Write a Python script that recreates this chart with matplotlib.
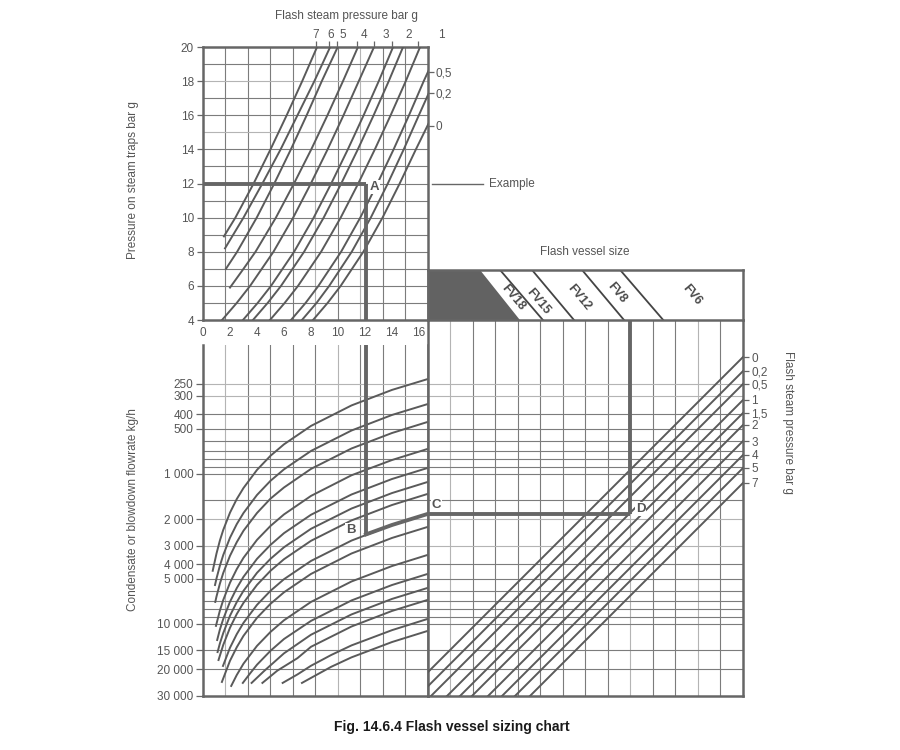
import numpy as np
import matplotlib.pyplot as plt
from matplotlib.ticker import FixedLocator, NullLocator

plt.rcParams['font.family'] = ['Liberation Sans', 'DejaVu Sans']
plt.rcParams['font.size'] = 8.5
plt.rcParams['text.color'] = '#555555'
plt.rcParams['xtick.color'] = '#666666'
plt.rcParams['ytick.color'] = '#666666'
plt.rcParams['xtick.labelcolor'] = '#555555'
plt.rcParams['ytick.labelcolor'] = '#555555'

# ---------------- data ----------------
pct_max = 16.63
pct_ticks = [0, 2, 4, 6, 8, 10, 12, 14, 16]
pct_extra = [18, 20]
pct_extra_labels = ['18', '20%']
trap_ticks = [4, 6, 8, 10, 12, 14, 16, 18, 20]

# flash steam curves (trap pressure bar g -> flash %)
flash_bar = [
    [8.9, 10, 12, 14, 16, 18, 20],
    [8.2, 10, 12, 14, 16, 18, 20],
    [7.0, 8, 10, 12, 14, 16, 18, 20],
    [5.9, 7, 8, 10, 12, 14, 16, 18, 20],
    [4, 5, 6, 8, 10, 12, 14, 16, 18, 20],
    [4, 5, 6, 8, 10, 12, 14, 16, 18, 20],
    [4, 5, 6, 8, 10, 12, 14, 16, 18, 20],
    [4, 5, 6, 8, 10, 12, 14, 16, 18, 20],
    [4, 5, 6, 8, 10, 12, 14, 16, 18, 18.6],
    [4, 5, 6, 8, 10, 12, 14, 16, 17.25],
    [4, 5, 6, 8, 10, 12, 14, 15.5],
]
flash_pct = [
    [1.55, 2.4, 3.75, 5.0, 6.2, 7.35, 8.45],
    [1.63, 3.0, 4.4, 5.75, 7.0, 8.25, 9.42],
    [1.7, 2.53, 3.98, 5.28, 6.51, 7.68, 8.8, 9.98],
    [2.0, 3.0, 3.89, 5.4, 6.74, 8.02, 9.22, 10.37, 11.48],
    [1.41, 2.5, 3.49, 5.22, 6.68, 7.99, 9.23, 10.41, 11.54, 12.67],
    [2.96, 4.05, 5.04, 6.75, 8.2, 9.5, 10.73, 11.9, 13.02, 14.08],
    [3.7, 4.79, 5.78, 7.49, 8.94, 10.24, 11.47, 12.64, 13.76, 14.82],
    [4.96, 6.05, 7.04, 8.75, 10.2, 11.5, 12.73, 13.9, 15.02, 16.08],
    [6.52, 7.6, 8.55, 10.23, 11.65, 12.92, 14.12, 15.26, 16.35, 16.7],
    [7.33, 8.41, 9.35, 11.02, 12.43, 13.69, 14.87, 15.99, 16.7],
    [8.15, 9.23, 10.2, 11.88, 13.3, 14.57, 15.77, 16.7],
]
flash_top_labels = ['7', '6', '5', '4', '3', '2', '1']
flash_top_label_pct = [8.37, 9.48, 10.37, 11.93, 13.56, 15.26, 17.63]
flash_top_tick_pct = [8.37, 9.33, 9.93, 11.41, 12.67, 14.0, 15.93]
flash_side_labels = ['0,5', '0,2', '0']
flash_side_bar = [18.53, 17.3, 15.37]

# condensate flowrate curves (flash % -> kg/h)
flow_ticks = [250, 300, 400, 500, 1000, 2000, 3000, 4000, 5000,
              10000, 15000, 20000, 30000]
flow_tick_labels = ['250', '300', '400', '500', '1 000', '2 000', '3 000',
                    '4 000', '5 000', '10 000', '15 000', '20 000', '30 000']
flow_grid = [250, 300, 400, 500, 600, 700, 800, 900, 1000, 1500, 2000, 3000,
             4000, 5000, 6000, 7000, 8000, 9000, 10000, 15000, 20000]
flow_pct = [
    [0.72, 1, 1.25, 1.5, 2, 2.5, 3, 4, 5, 6, 8, 11, 14, 16.63],
    [0.89, 1, 1.25, 1.5, 2, 2.5, 3, 4, 5, 6, 8, 11, 14, 16.63],
    [0.91, 1, 1.25, 1.5, 2, 2.5, 3, 4, 5, 6, 8, 11, 14, 16.63],
    [0.96, 1.25, 1.5, 2, 2.5, 3, 4, 5, 6, 8, 11, 14, 16.63],
    [1.05, 1.25, 1.5, 2, 2.5, 3, 4, 5, 6, 8, 11, 14, 16.63],
    [1.08, 1.25, 1.5, 2, 2.5, 3, 4, 5, 6, 8, 11, 14, 16.63],
    [1.15, 1.5, 2, 2.5, 3, 4, 5, 6, 8, 11, 14, 16.63],
    [1.48, 2, 2.5, 3, 4, 5, 6, 8, 11, 14, 16.63],
    [1.4, 2, 2.5, 3, 4, 5, 6, 8, 11, 14, 16.63],
    [2.09, 2.5, 3, 4, 5, 6, 8, 11, 14, 16.63],
    [2.95, 3.5, 4, 5, 6, 8, 11, 14, 16.63],
    [3.6, 4.5, 6, 8, 11, 14, 16.63],
    [4.4, 5.5, 7, 8, 11, 14, 16.63],
    [5.9, 7, 8, 9.5, 11, 14, 16.63],
    [7.33, 8, 9.5, 11, 14, 16.63],
]
flow_kgh = [
    [4420, 3390, 2780, 2360, 1810, 1470, 1240, 939, 756, 634, 478, 349, 275, 233],
    [5500, 4975, 4090, 3470, 2660, 2160, 1820, 1380, 1110, 931, 702, 513, 404, 342],
    [7130, 6560, 5390, 4570, 3510, 2850, 2390, 1820, 1460, 1230, 925, 676, 533, 450],
    [10300, 8150, 6920, 5310, 4310, 3620, 2750, 2220, 1860, 1400, 1020, 807, 681],
    [12800, 10900, 9260, 7110, 5770, 4850, 3680, 2970, 2480, 1870, 1370, 1080, 912],
    [15400, 13500, 11500, 8810, 7150, 6010, 4560, 3680, 3080, 2320, 1700, 1340, 1131],
    [17400, 13800, 10600, 8590, 7230, 5490, 4420, 3700, 2790, 2040, 1610, 1359],
    [19050, 14400, 11700, 9830, 7460, 6010, 5030, 3800, 2780, 2190, 1848],
    [24360, 17600, 14300, 12000, 9100, 7340, 6150, 4640, 3390, 2670, 2256],
    [25900, 21900, 18400, 14000, 11300, 9450, 7130, 5210, 4110, 3467],
    [24730, 21300, 18700, 15100, 12600, 9540, 6970, 5500, 4642],
    [24730, 20700, 15700, 11800, 8640, 6810, 5754],
    [24730, 20500, 16900, 14200, 10400, 8190, 6918],
    [24730, 21700, 19000, 16100, 13900, 11000, 9261],
    [24730, 22900, 19300, 16700, 13200, 11137],
]

# flash vessel size band (cells 0..14)
vessel_names = ['FV18', 'FV15', 'FV12', 'FV8', 'FV6']
solid_top, solid_bottom = 2.33, 4.10
divider_top = [3.22, 4.64, 6.86, 8.55]
divider_bottom = [5.12, 6.50, 8.72, 10.46]
name_x = [3.79, 4.90, 6.72, 8.41, 11.73]
name_y = [0.44, 0.36, 0.44, 0.54, 0.50]

# vessel lines per flash steam pressure
vessel_press_labels = ['0', '0,2', '0,5', '1', '1,5', '2', '3', '4', '5', '7']
vessel_flow_right = [166, 206, 251, 321, 392, 471, 603, 747, 912, 1148]
vessel_flow_left = [21100, 26200, 31900, 40800, 49800, 59800, 76600,
                    94900, 115800, 145800]

# worked example
example_bar = 12
example_pct = 12.07
example_flow_b = 2530
example_flow_c = 1848
example_cell_d = 9.0
example_bc_pct = [12.07, 14, 16.63]
example_bc_flow = [2530, 2188, 1848]

# ---------------- drawing ----------------
W, H = 900, 750
DARK = '#5a5a5a'
GRID = '#7c7c7c'
LIGHT = '#b4b4b4'
FRAME = '#666666'


def box(x0, y0, x1, y1):
    return [x0 / W, 1 - y1 / H, (x1 - x0) / W, (y1 - y0) / H]


def frame(ax, sides):
    for s in ['top', 'bottom', 'left', 'right']:
        ax.spines[s].set_visible(s in sides)
        ax.spines[s].set_color(FRAME)
        ax.spines[s].set_linewidth(1.8)


def point_label(ax, x, y, s):
    ax.text(x, y, s, ha='center', va='center', fontsize=9.5,
            fontweight='bold', color='#555555', zorder=6,
            bbox=dict(facecolor='white', edgecolor='none', pad=0.6))


fig = plt.figure(figsize=(9, 7.5), dpi=100)

# top-left: trap pressure vs flash %
ax_tl = fig.add_axes(box(203, 47, 427.5, 320))
ax_tl.set_xlim(0, pct_max)
ax_tl.set_ylim(4, 20)
frame(ax_tl, ['top', 'bottom', 'left', 'right'])
cols = np.linspace(0, pct_max, 11)
for k, c in enumerate(cols[1:-1], start=1):
    ax_tl.axvline(c, color=LIGHT if k in (5, 7) else GRID, lw=0.8, zorder=1)
for b in range(5, 20):
    ax_tl.axhline(b, color=LIGHT if b in (15, 18) else GRID, lw=0.8, zorder=1)
for bars, pcts in zip(flash_bar, flash_pct):
    ax_tl.plot(pcts, bars, color=DARK, lw=1.4, zorder=3)
ax_tl.set_xticks(pct_ticks)
ax_tl.set_xticklabels([str(t) for t in pct_ticks])
ax_tl.tick_params(axis='x', length=0, pad=5)
for p, lab in zip(pct_extra, pct_extra_labels):
    ax_tl.text(p, 3.22, lab, ha='center', va='center')
ax_tl.set_yticks(trap_ticks)
ax_tl.tick_params(axis='y', length=4.5, width=0.9, pad=2)
for p, lab in zip(flash_top_label_pct, flash_top_labels):
    ax_tl.text(p, 20.72, lab, ha='center', va='center')

ax_top = ax_tl.twiny()
ax_top.set_xlim(0, pct_max)
ax_top.set_xticks(flash_top_tick_pct)
ax_top.set_xticklabels([])
ax_top.tick_params(axis='x', length=4, width=0.9)
for s in ax_top.spines.values():
    s.set_visible(False)

ax_side = ax_tl.twinx()
ax_side.set_ylim(4, 20)
ax_side.set_yticks(flash_side_bar)
ax_side.set_yticklabels(flash_side_labels)
ax_side.tick_params(axis='y', length=4.5, width=0.9, pad=1.5)
for s in ax_side.spines.values():
    s.set_visible(False)

# example path in the top panel
ax_tl.plot([0, example_pct], [example_bar, example_bar], color='#666666',
           lw=2.8, zorder=5, solid_capstyle='butt')
ax_tl.plot([example_pct, example_pct], [example_bar, 4], color='#666666',
           lw=2.8, zorder=5, solid_capstyle='butt')
ax_tl.plot([16.96, 20.74], [example_bar, example_bar], color='#666666',
           lw=1.0, clip_on=False)
ax_tl.text(21.19, example_bar, 'Example', ha='left', va='center')
point_label(ax_tl, 12.67, 11.8, 'A')

# bottom-left: condensate flowrate vs flash %
ax_bl = fig.add_axes(box(203, 345, 427.5, 695.5))
ax_bl.set_xlim(0, pct_max)
ax_bl.set_yscale('log')
ax_bl.set_ylim(30000, 138)
frame(ax_bl, ['bottom', 'left', 'right'])
for k, c in enumerate(cols[1:-1], start=1):
    ax_bl.axvline(c, color=LIGHT if k in (1, 6) else GRID, lw=0.8, zorder=1)
for f in flow_grid:
    ax_bl.axhline(f, color=LIGHT if f in (250, 300, 2000, 3000) else GRID,
                  lw=0.8, zorder=1)
for pcts, flows in zip(flow_pct, flow_kgh):
    ax_bl.plot(pcts, flows, color=DARK, lw=1.4, zorder=3)
ax_bl.yaxis.set_major_locator(FixedLocator(flow_ticks))
ax_bl.yaxis.set_minor_locator(NullLocator())
ax_bl.set_yticklabels(flow_tick_labels)
ax_bl.tick_params(axis='y', length=5, width=0.9, pad=2)
ax_bl.set_xticks([])
ax_bl.plot([example_pct, example_pct], [138, example_flow_b], color='#666666',
           lw=2.8, zorder=5, solid_capstyle='butt')
ax_bl.plot(example_bc_pct, example_bc_flow, color='#666666', lw=2.8, zorder=5)
point_label(ax_bl, 10.96, 2361, 'B')

# bottom-right: vessel selection
ax_br = fig.add_axes(box(427.5, 320, 743, 695.5))
ax_br.set_xlim(0, 14)
ax_br.set_yscale('log')
ax_br.set_ylim(30000, 94)
frame(ax_br, ['bottom', 'left', 'right'])
for k in range(1, 14):
    ax_br.axvline(k, color=LIGHT if k in (1, 9, 12) else GRID, lw=0.8, zorder=1)
for f in flow_grid:
    ax_br.axhline(f, color=LIGHT if f in (250, 300, 2000, 3000) else GRID,
                  lw=0.8, zorder=1)
for fl, fr in zip(vessel_flow_left, vessel_flow_right):
    ax_br.plot([0, 14], [fl, fr], color=DARK, lw=1.4, zorder=3)
ax_br.set_xticks([])
ax_br.yaxis.set_major_locator(NullLocator())
ax_br.yaxis.set_minor_locator(NullLocator())
ax_br.plot([0, example_cell_d], [example_flow_c, example_flow_c],
           color='#666666', lw=2.8, zorder=5, solid_capstyle='butt')
ax_br.plot([example_cell_d, example_cell_d], [example_flow_c, 94],
           color='#666666', lw=2.8, zorder=5, solid_capstyle='butt')
point_label(ax_br, 0.38, 1609, 'C')
point_label(ax_br, 9.47, 1712, 'D')

ax_rt = ax_br.twinx()
ax_rt.set_yscale('log')
ax_rt.set_ylim(30000, 94)
ax_rt.yaxis.set_major_locator(FixedLocator(vessel_flow_right))
ax_rt.yaxis.set_minor_locator(NullLocator())
ax_rt.set_yticklabels(vessel_press_labels)
ax_rt.tick_params(axis='y', length=4.5, width=0.9, pad=1.5)
for s in ax_rt.spines.values():
    s.set_visible(False)

# vessel size band
ax_band = fig.add_axes(box(427.5, 270, 743, 320))
ax_band.set_xlim(0, 14)
ax_band.set_ylim(0, 1)
frame(ax_band, ['top', 'bottom', 'left', 'right'])
ax_band.set_xticks([])
ax_band.set_yticks([])
ax_band.fill([0, 0, solid_top, solid_bottom], [0, 1, 1, 0],
             color='#626262', lw=0)
for t, b in zip(divider_top, divider_bottom):
    ax_band.plot([t, b], [1, 0], color='#444444', lw=1.3)
for name, x, y in zip(vessel_names, name_x, name_y):
    ax_band.text(x, y, name, rotation=-50, rotation_mode='anchor',
                 ha='center', va='center', fontsize=9, fontweight='bold',
                 color='#4a4a4a')

# titles
fig.text(346 / W, 1 - 16 / H, 'Flash steam pressure bar g', ha='center', va='center')
fig.text(133 / W, 1 - 180 / H, 'Pressure on steam traps bar g',
         rotation=90, ha='center', va='center')
fig.text(133 / W, 1 - 510 / H, 'Condensate or blowdown flowrate kg/h',
         rotation=90, ha='center', va='center')
fig.text(585 / W, 1 - 252 / H, 'Flash vessel size', ha='center', va='center')
fig.text(788 / W, 1 - 422 / H, 'Flash steam pressure bar g',
         rotation=270, ha='center', va='center')
fig.text(452 / W, 1 - 727 / H, 'Fig. 14.6.4 Flash vessel sizing chart',
         ha='center', va='center', fontsize=10, fontweight='bold', color='#1a1a1a')

fig.savefig('out.png', dpi=100)
